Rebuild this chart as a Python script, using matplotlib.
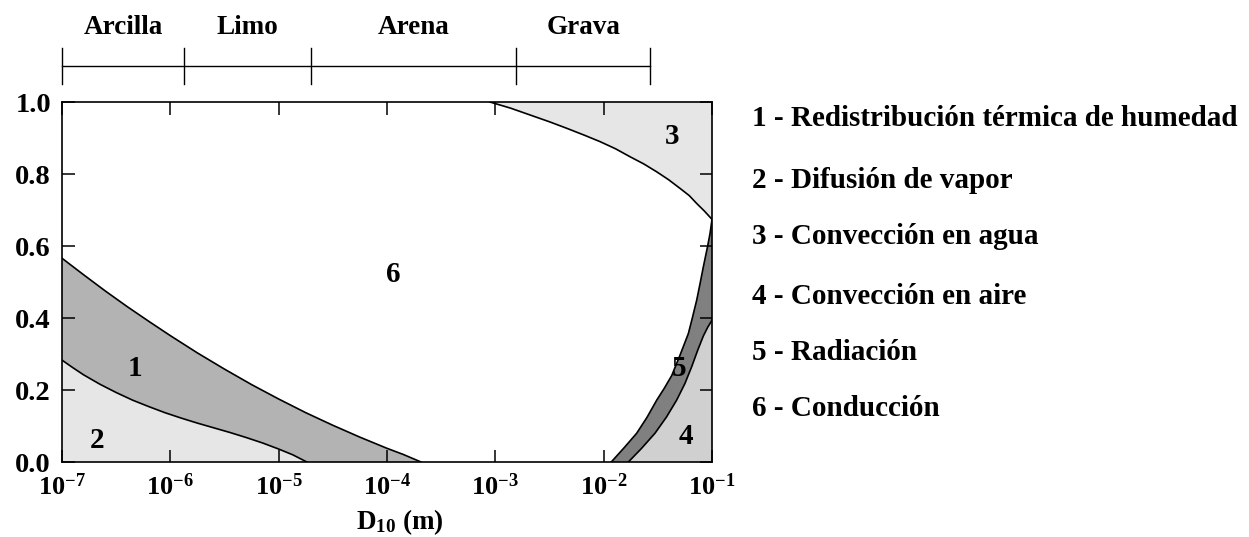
import matplotlib.pyplot as plt
import numpy as np

plt.rcParams["font.family"] = ["Liberation Serif", "DejaVu Serif"]
plt.rcParams["font.weight"] = "bold"
plt.rcParams["axes.labelweight"] = "bold"
plt.rcParams["mathtext.fontset"] = "custom"
plt.rcParams["mathtext.rm"] = "Liberation Serif:bold"
plt.rcParams["mathtext.it"] = "Liberation Serif:bold"
plt.rcParams["mathtext.bf"] = "Liberation Serif:bold"

# boundary curves, x given as log10(D10 in m)
upper1_logx = np.array([-7.0, -6.8, -6.6, -6.4, -6.2, -6.0, -5.75, -5.5, -5.25, -5.0,
                        -4.75, -4.5, -4.25, -4.0, -3.85, -3.686])
upper1_y = np.array([0.566, 0.520, 0.475, 0.432, 0.391, 0.351, 0.303, 0.258, 0.215, 0.175,
                     0.137, 0.102, 0.069, 0.038, 0.021, 0.0])

lower1_logx = np.array([-7.0, -6.9, -6.8, -6.65, -6.5, -6.35, -6.2, -6.05, -5.9, -5.75,
                        -5.6, -5.45, -5.3, -5.15, -5.0, -4.87, -4.74])
lower1_y = np.array([0.283, 0.262, 0.242, 0.216, 0.193, 0.172, 0.154, 0.137, 0.122, 0.108,
                     0.095, 0.082, 0.068, 0.053, 0.036, 0.020, 0.0])

water_logx = np.array([-3.05, -2.86, -2.68, -2.5, -2.341, -2.18, -2.034, -1.89, -1.757,
                       -1.63, -1.51, -1.40, -1.295, -1.21, -1.141, -1.07, -1.0])
water_y = np.array([1.0, 0.983, 0.964, 0.945, 0.927, 0.908, 0.890, 0.870, 0.848,
                    0.828, 0.806, 0.784, 0.760, 0.740, 0.718, 0.697, 0.674])

rad_logx = np.array([-1.93, -1.81, -1.695, -1.60, -1.51, -1.44, -1.372, -1.295, -1.218,
                     -1.18, -1.141, -1.11, -1.08, -1.04, -1.018, -1.0])
rad_y = np.array([0.0, 0.040, 0.080, 0.124, 0.172, 0.205, 0.240, 0.297, 0.357,
                  0.402, 0.450, 0.496, 0.542, 0.600, 0.635, 0.674])

air_logx = np.array([-1.772, -1.65, -1.526, -1.42, -1.326, -1.25, -1.187, -1.13, -1.08,
                     -1.04, -1.0])
air_y = np.array([0.0, 0.038, 0.080, 0.125, 0.172, 0.218, 0.265, 0.312, 0.350,
                  0.374, 0.394])

# soil classes on top bar
soil_names = ["Arcilla", "Limo", "Arena", "Grava"]
soil_limits = [1.0e-7, 1.35e-6, 2.0e-5, 1.55e-3, 2.7e-2]

zone_ids = ["1", "2", "3", "4", "5", "6"]
zone_label_x = [4.7e-7, 2.1e-7, 4.3e-2, 5.8e-2, 5.0e-2, 1.14e-4]
zone_label_y = [0.261, 0.061, 0.903, 0.072, 0.261, 0.522]
zone_names = [
    "1 - Redistribución térmica de humedad",
    "2 - Difusión de vapor",
    "3 - Convección en agua",
    "4 - Convección en aire",
    "5 - Radiación",
    "6 - Conducción",
]

xticks = [1e-7, 1e-6, 1e-5, 1e-4, 1e-3, 1e-2, 1e-1]
xticklabels = [r"$10^{-7}$", r"$10^{-6}$", r"$10^{-5}$", r"$10^{-4}$",
               r"$10^{-3}$", r"$10^{-2}$", r"$10^{-1}$"]
yticks = [0.0, 0.2, 0.4, 0.6, 0.8, 1.0]

W, H = 1249, 537
fig = plt.figure(figsize=(W / 100, H / 100), dpi=100)
ax = fig.add_axes([62 / W, 1 - 462 / H, 650 / W, 360 / H])

x_up = 10.0 ** upper1_logx
x_lo = 10.0 ** lower1_logx
x_w = 10.0 ** water_logx
x_r = 10.0 ** rad_logx
x_a = 10.0 ** air_logx

# zone 2
ax.fill(np.r_[x_lo, 1e-7], np.r_[lower1_y, 0.0], color="#e6e6e6", lw=0)
# zone 1
ax.fill(np.r_[x_up, x_lo[::-1]], np.r_[upper1_y, lower1_y[::-1]], color="#b3b3b3", lw=0)
# zone 3
ax.fill(np.r_[x_w, 0.1], np.r_[water_y, 1.0], color="#e6e6e6", lw=0)
# zone 4
ax.fill(np.r_[x_a, 0.1], np.r_[air_y, 0.0], color="#d0d0d0", lw=0)
# zone 5
ax.fill(np.r_[x_r, x_a[::-1]], np.r_[rad_y, air_y[::-1]], color="#808080", lw=0)

for xs, ys in [(x_up, upper1_y), (x_lo, lower1_y), (x_w, water_y), (x_r, rad_y), (x_a, air_y)]:
    ax.plot(xs, ys, color="black", lw=1.2)

for t, xv, yv in zip(zone_ids, zone_label_x, zone_label_y):
    ax.text(xv, yv, t, fontsize=21, ha="center", va="center")

ax.set_xscale("log")
ax.set_xlim(1e-7, 1e-1)
ax.set_ylim(0, 1)
ax.set_xticks(xticks)
ax.set_xticklabels(xticklabels)
ax.minorticks_off()
ax.set_yticks(yticks)
ax.set_yticklabels([f"{v:.1f}" for v in yticks])
ax.tick_params(direction="in", length=9, width=1.1, top=True, right=True, pad=8)
ax.tick_params(axis="x", labelsize=19)
ax.tick_params(axis="y", labelsize=20.5)
for s in ax.spines.values():
    s.set_linewidth(1.2)
ax.set_xlabel(r"$D_{10}$ (m)", fontsize=19.5)
ax.xaxis.set_label_coords(0.52, -0.125)

# top bar with soil classes
trans = ax.get_xaxis_transform()
ax.plot([soil_limits[0], soil_limits[-1]], [1.10, 1.10], color="black", lw=1.0,
        transform=trans, clip_on=False)
for xv in soil_limits:
    ax.plot([xv, xv], [1.05, 1.15], color="black", lw=1.0, transform=trans, clip_on=False)
for i, name in enumerate(soil_names):
    xc = np.sqrt(soil_limits[i] * soil_limits[i + 1])
    ax.text(xc, 1.208, name, fontsize=19.5, ha="center", va="center", transform=trans)

legend_y = [118, 180, 237, 296, 352, 408]
for name, py in zip(zone_names, legend_y):
    fig.text(752 / W, 1 - py / H, name, fontsize=21, ha="left", va="center")

fig.savefig("out.png", dpi=100)
